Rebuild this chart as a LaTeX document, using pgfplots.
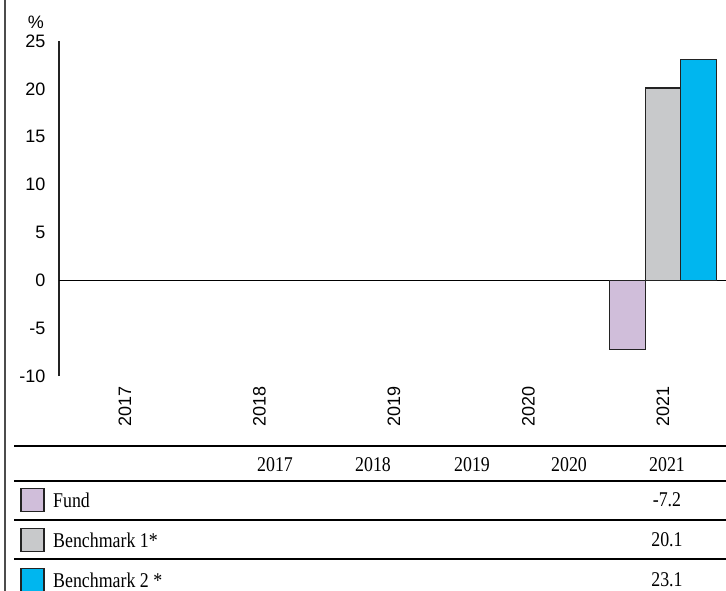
\documentclass[border=0pt]{standalone}
\usepackage{fontspec}
\setmainfont{Liberation Serif}
\setsansfont{Liberation Sans}
\newfontfamily\tabfont{Liberation Serif}[FakeStretch=0.85]
\usepackage{pgfplots}
\pgfplotsset{compat=1.18}

\definecolor{fundc}{RGB}{208,190,218}
\definecolor{bmonec}{RGB}{200,201,203}
\definecolor{bmtwoc}{RGB}{0,182,239}
\definecolor{edgec}{RGB}{35,35,35}

\newcommand{\tf}{\tabfont\fontsize{21}{24}\selectfont}

\begin{document}
\begin{tikzpicture}
\useasboundingbox (0pt,0pt) rectangle (726pt,-591pt);

\begin{axis}[
    at={(59pt,-376pt)}, anchor=south west,
    scale only axis,
    width=667pt, height=335pt,
    ybar=0pt,
    bar width=35.5pt,
    xmin=-0.4907, xmax=4.468,
    ymin=-10, ymax=25,
    ytick={-10,-5,...,25},
    xtick={0,1,2,3,4},
    xticklabels={2017,2018,2019,2020,2021},
    axis y line=left,
    axis x line=bottom,
    x axis line style={draw=none},
    y axis line style={-, draw=edgec, line width=1.3pt},
    major tick length=0pt,
    ticklabel style={font=\sffamily\fontsize{18}{20}\selectfont},
    /pgf/number format/assume math mode=true,
    yticklabel style={xshift=-10pt},
    xticklabel style={rotate=90, anchor=east, xshift=-7pt},
    extra y ticks={0},
    extra y tick labels={},
    extra y tick style={grid=major, major grid style={black, line width=1pt}},
    every axis plot/.append style={draw=edgec, line width=1.2pt},
]
\addplot[fill=fundc] coordinates {(4,-7.2)};
\addplot[fill=bmonec] coordinates {(4,20.1)};
\addplot[fill=bmtwoc] coordinates {(4,23.1)};
\end{axis}

% unit mark above the y axis
\node[font=\sffamily\fontsize{18}{20}\selectfont] at (36pt,-22pt) {\%};

% left frame line
\draw[color=black!70, line width=2pt] (5pt,0pt) -- (5pt,-591pt);

% data table under the chart
\foreach \yy in {446,481,520,559}
  \draw[black, line width=2pt] (14pt,-\yy pt) -- (726pt,-\yy pt);

\foreach \xx/\lab in {275/2017,373/2018,472/2019,569/2020,667/2021}
  \node[anchor=base, inner sep=0pt, font=\tf] at (\xx pt,-471pt) {\lab};

\foreach \yy/\cc/\lab/\val in {500/fundc/Fund/-7.2,540/bmonec/Benchmark 1*/20.1,580/bmtwoc/Benchmark 2 */23.1}{
  \draw[fill=\cc, draw=edgec, line width=1.3pt] (21pt,-\yy pt+11.5pt) rectangle (44pt,-\yy pt-11.5pt);
  \node[anchor=west, inner sep=0pt, font=\tf] at (53pt,-\yy pt) {\lab};
  \node[anchor=center, inner sep=0pt, font=\tf] at (667pt,-\yy pt) {\val};
}
\end{tikzpicture}
\end{document}
